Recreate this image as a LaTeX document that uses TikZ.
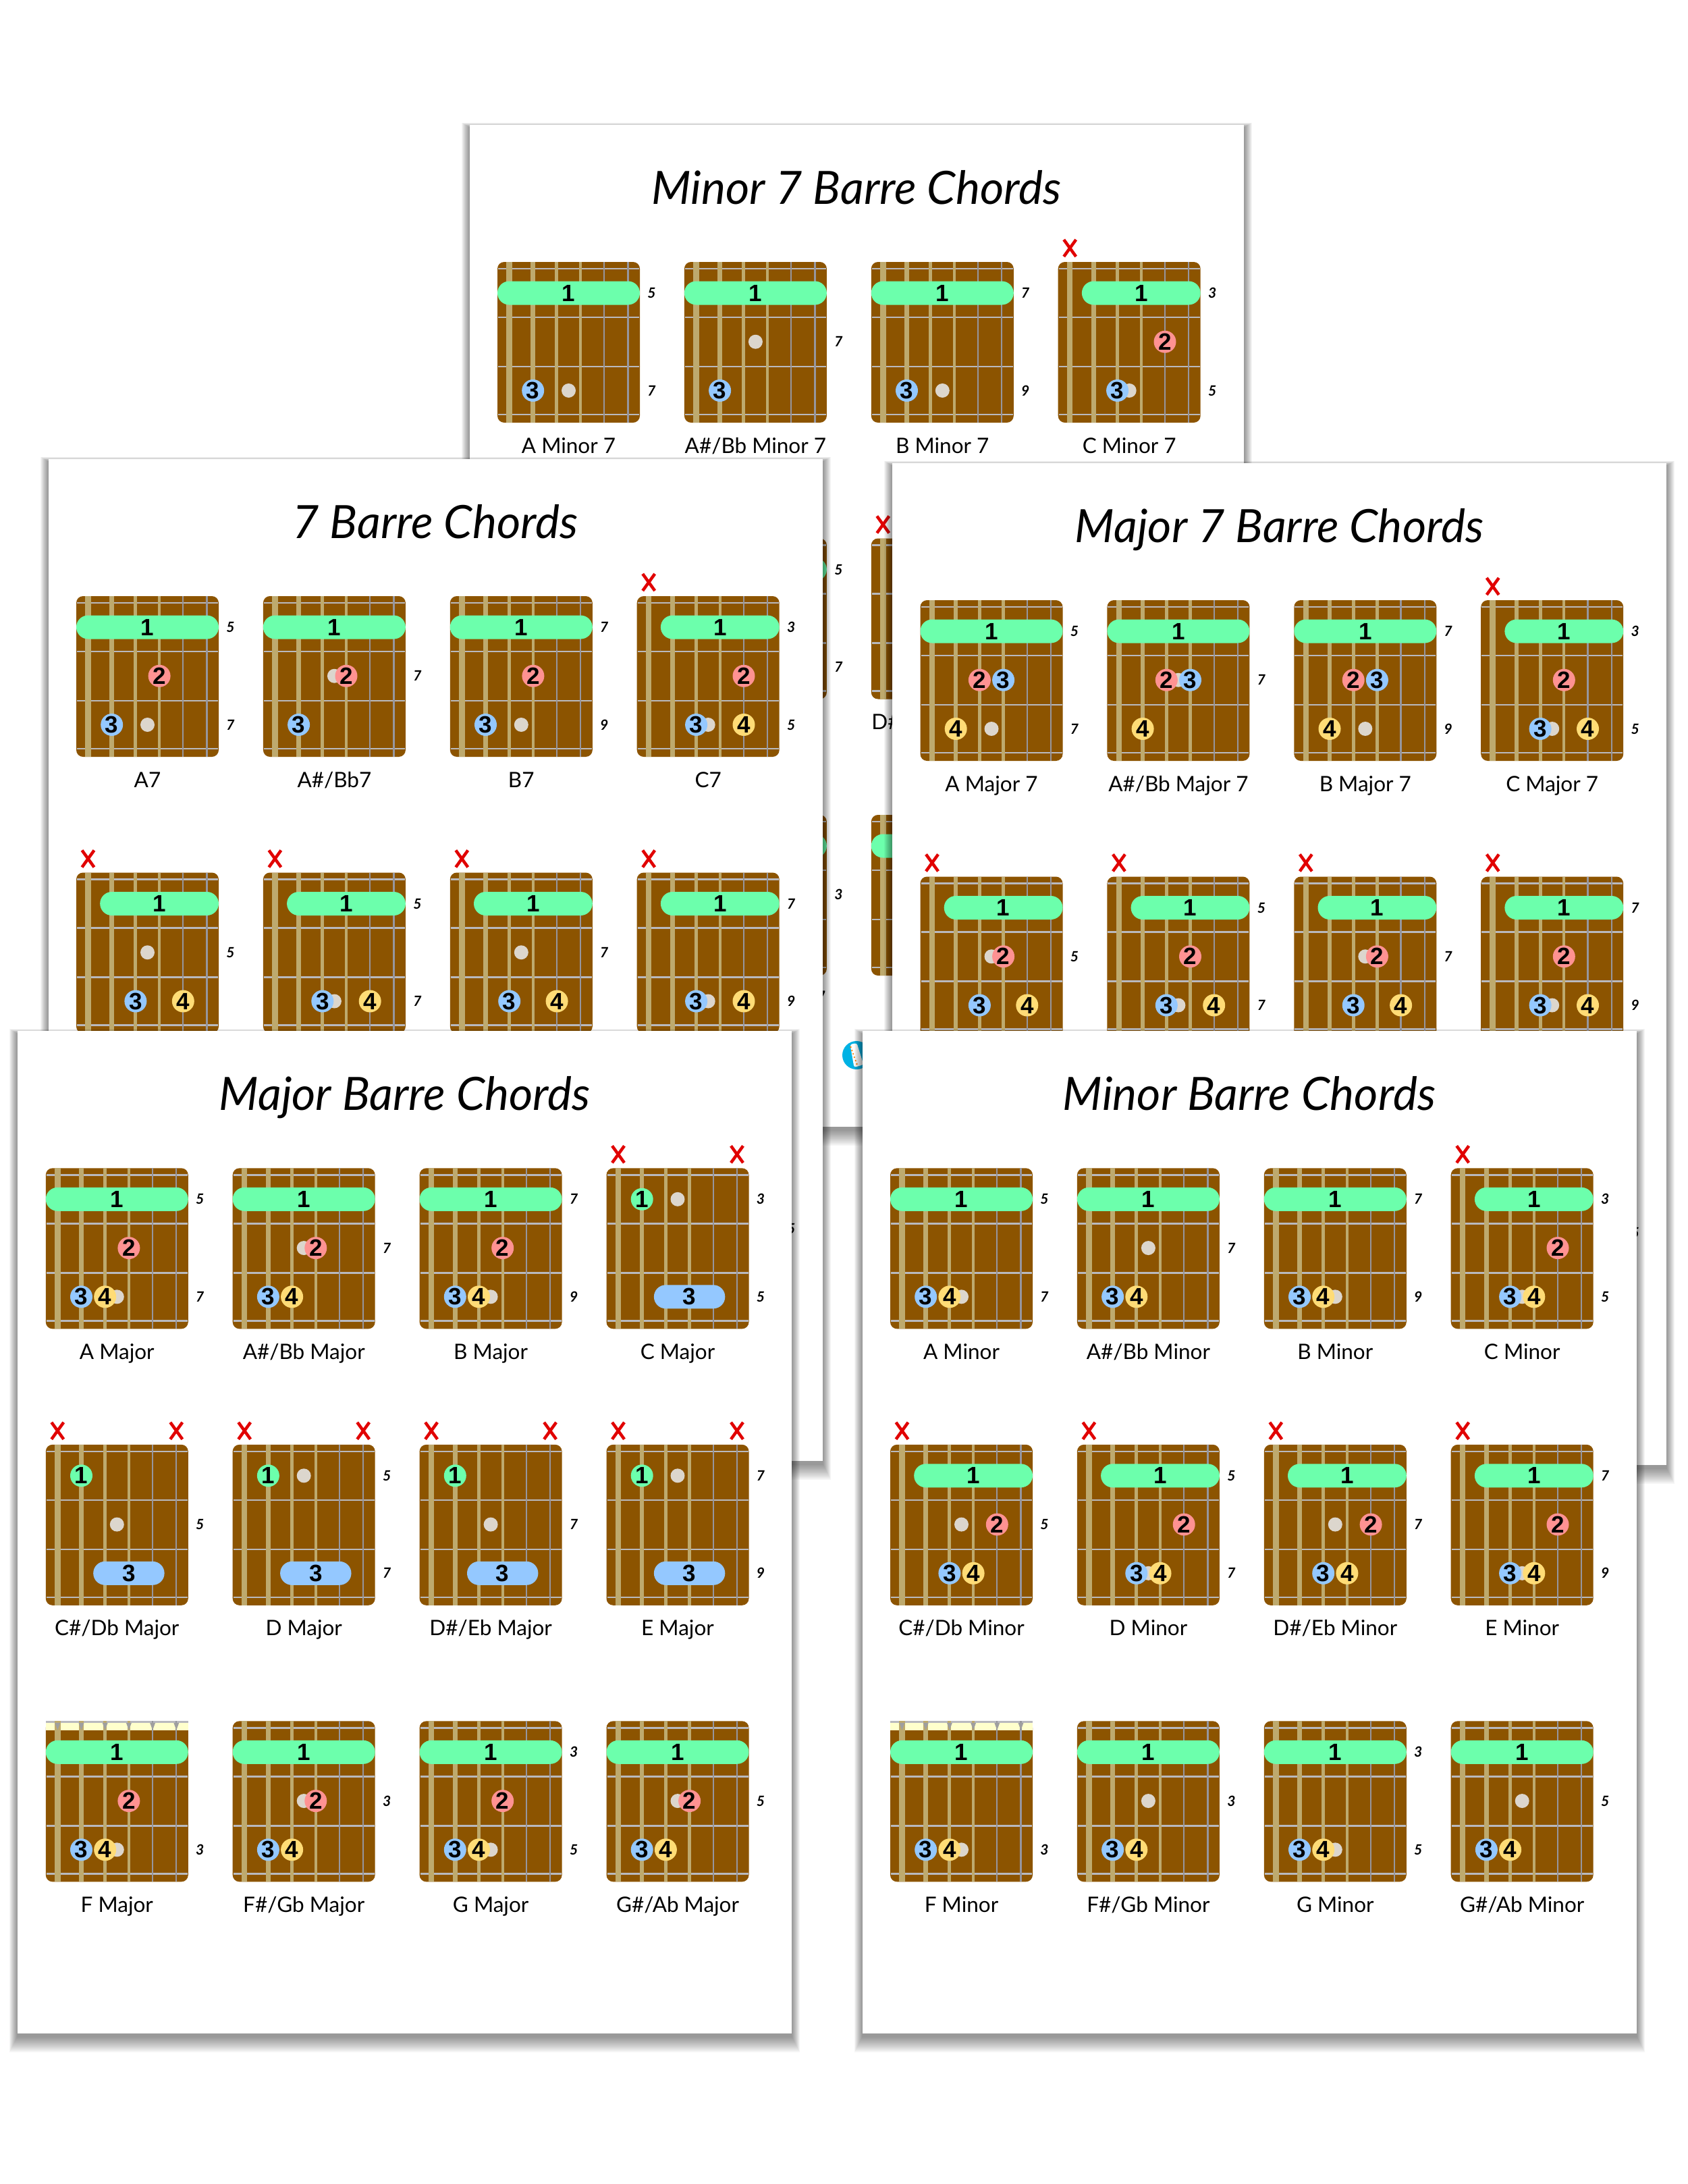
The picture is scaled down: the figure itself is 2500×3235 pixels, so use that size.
\documentclass[tikz,border=0pt]{standalone}
\usepackage{fontspec}
\setmainfont{Lato}
\newfontfamily\dgfont{Liberation Sans}
\definecolor{brd}{RGB}{140,84,0}
\definecolor{tanS}{RGB}{190,170,110}
\definecolor{graySt}{RGB}{150,150,158}
\definecolor{fretC}{RGB}{185,185,190}
\definecolor{barreG}{RGB}{108,255,172}
\definecolor{redD}{RGB}{255,146,146}
\definecolor{blueD}{RGB}{148,200,255}
\definecolor{yelD}{RGB}{255,220,118}
\definecolor{grayD}{RGB}{220,214,205}
\definecolor{muteR}{RGB}{225,0,0}
\definecolor{nutC}{RGB}{255,255,204}
\definecolor{logoB}{RGB}{0,178,228}
\tikzset{
  dtext/.style={font=\dgfont\bfseries\fontsize{35}{35}\selectfont,inner sep=0pt},
  fnum/.style={font=\bfseries\itshape\fontsize{21}{21}\selectfont,inner sep=0pt},
  clabel/.style={font=\fontsize{31.5}{31.5}\selectfont,inner sep=0pt,anchor=base},
  ptitle/.style={font=\itshape\fontsize{68}{68}\selectfont,inner sep=0pt,anchor=base},
}
% string x and row y
\newcommand\cbSX[1]{17.5+(#1-1)*35.2}
\newcommand\cbRY[1]{46+(#1-1)*72.25}
\newcommand\cbStrings{%
  \foreach \i/\w/\c in {1/8.5/tanS,2/6.5/tanS,3/5/tanS,4/4.3/tanS,5/2.3/graySt,6/2.3/graySt}
    \draw[\c,line width=\w pt] ({17.5+(\i-1)*35.2},0) -- ({17.5+(\i-1)*35.2},238);}
\newcommand\cbBoard{%
  \fill[brd,rounded corners=10pt] (0,0) rectangle (211,238);
  \foreach \fy in {10,82,155,226} \draw[fretC,line width=2.6pt] (1,\fy) -- (210,\fy);
  \cbStrings}
\newcommand\cbNutBoard{%
  \fill[brd,rounded corners=10pt] (0,0) rectangle (211,238);
  \fill[brd] (0,0) rectangle (211,20);
  \fill[nutC] (0,0) rectangle (211,13.5);
  \draw[fretC,line width=2.5pt] (0,1.25) -- (211,1.25);
  \foreach \fy in {82,155,226} \draw[fretC,line width=2.6pt] (1,\fy) -- (210,\fy);
  \cbStrings
  \foreach \i in {1,...,6} \fill[gray!75] ({17.5+(\i-1)*35.2-4},2.5) -- ({17.5+(\i-1)*35.2+4},2.5) -- ({17.5+(\i-1)*35.2},13.5) -- cycle;}
\newcommand\cbGray[1]{\fill[grayD] ({\cbSX{3.5}},{\cbRY{#1}}) circle[radius=10.5pt];}
\newcommand\cbFret[2]{\cbGray{#1}\node[fnum] at (228.5,{\cbRY{#1}}) {#2};}
\newcommand\cbFretsAB[2]{\cbFret{1}{#1}\cbFret{3}{#2}}
\newcommand\cbFretsM[1]{\cbFret{2}{#1}}
\newcommand\cbFretsC[1]{\cbFret{3}{#1}}
\newcommand\cbPill[5]{%
  \fill[#1,rounded corners=17.4pt] ({\cbSX{#2}-17.5},{\cbRY{#4}-17.5}) rectangle ({\cbSX{#3}+17.5},{\cbRY{#4}+17.5});
  \node[dtext] at ({(\cbSX{#2}+\cbSX{#3})/2},{\cbRY{#4}}) {#5};}
\newcommand\cbBarre[3]{\cbPill{barreG}{#1}{#2}{#3}{1}}
\newcommand\cbDot[4]{%
  \fill[#1] ({\cbSX{#2}},{\cbRY{#3}}) circle[radius=16.5pt];
  \node[dtext] at ({\cbSX{#2}},{\cbRY{#3}}) {#4};}
\newcommand\cbX[1]{\draw[muteR,line width=4.5pt] ({\cbSX{#1}-9},-33) -- ({\cbSX{#1}+9},-8) ({\cbSX{#1}+9},-33) -- ({\cbSX{#1}-9},-8);}
\newcommand\cbLabel[1]{\node[clabel] at (105.5,283) {#1};}
\newcommand\cbAt[3]{\begin{scope}[shift={({41.5+#1*276.9},{203+#2*409.5})}]#3\end{scope}}
% shapes
\newcommand\shMajE{\cbBarre{1}{6}{1}\cbDot{redD}{4}{2}{2}\cbDot{blueD}{2}{3}{3}\cbDot{yelD}{3}{3}{4}}
\newcommand\shMajA{\cbX{1}\cbX{6}\cbDot{barreG}{2}{1}{1}\cbPill{blueD}{3}{5}{3}{3}}
\newcommand\shMinE{\cbBarre{1}{6}{1}\cbDot{blueD}{2}{3}{3}\cbDot{yelD}{3}{3}{4}}
\newcommand\shMinA{\cbX{1}\cbBarre{2}{6}{1}\cbDot{redD}{5}{2}{2}\cbDot{blueD}{3}{3}{3}\cbDot{yelD}{4}{3}{4}}
\newcommand\shSevE{\cbBarre{1}{6}{1}\cbDot{redD}{4}{2}{2}\cbDot{blueD}{2}{3}{3}}
\newcommand\shSevA{\cbX{1}\cbBarre{2}{6}{1}\cbDot{blueD}{3}{3}{3}\cbDot{yelD}{5}{3}{4}}
\newcommand\shMinSevE{\cbBarre{1}{6}{1}\cbDot{blueD}{2}{3}{3}}
\newcommand\shMinSevA{\cbX{1}\cbBarre{2}{6}{1}\cbDot{redD}{5}{2}{2}\cbDot{blueD}{3}{3}{3}}
\newcommand\shMajSevE{\cbBarre{1}{6}{1}\cbDot{redD}{3}{2}{2}\cbDot{blueD}{4}{2}{3}\cbDot{yelD}{2}{3}{4}}
\newcommand\shMajSevA{\cbX{1}\cbBarre{2}{6}{1}\cbDot{redD}{4}{2}{2}\cbDot{blueD}{3}{3}{3}\cbDot{yelD}{5}{3}{4}}
% page
\newcommand\cbPage[4]{%
  \begin{scope}[shift={(#1,#2)}]
    \foreach \k in {1,...,12} \fill[black,opacity=0.04] ({-\k},{4-0.6*\k}) rectangle ({1147+\k},{1488.4+2*\k});
    \fill[white] (0,0) rectangle (1147,1484.4);
    \node[ptitle] at (573.5,117) {#3};
    #4
  \end{scope}}
\begin{document}
\begin{tikzpicture}[x=1pt,y=-1pt]
\useasboundingbox (0,0) rectangle (2500,3235);
\fill[white] (0,0) rectangle (2500,3235);
% ---------- Minor 7 page (back)
\cbPage{695.5}{185}{Minor 7 Barre Chords}{%
\cbAt{0}{0}{\cbBoard\cbFretsAB{5}{7}\shMinSevE\cbLabel{A Minor 7}}
\cbAt{1}{0}{\cbBoard\cbFretsM{7}\shMinSevE\cbLabel{A\#/Bb Minor 7}}
\cbAt{2}{0}{\cbBoard\cbFretsAB{7}{9}\shMinSevE\cbLabel{B Minor 7}}
\cbAt{3}{0}{\cbBoard\cbFretsAB{3}{5}\shMinSevA\cbLabel{C Minor 7}}
\cbAt{0}{1}{\cbBoard\cbFretsM{5}\shMinSevA\cbLabel{C\#/Db Minor 7}}
\cbAt{1}{1}{\cbBoard\cbFretsAB{5}{7}\shMinSevA\cbLabel{D Minor 7}}
\cbAt{2}{1}{\cbBoard\cbFretsM{7}\shMinSevA\cbLabel{D\#/Eb Minor 7}}
\cbAt{3}{1}{\cbBoard\cbFretsAB{7}{9}\shMinSevA\cbLabel{E Minor 7}}
\cbAt{0}{2}{\cbNutBoard\cbFretsC{3}\shMinSevE\cbLabel{F Minor 7}}
\cbAt{1}{2}{\cbBoard\cbFretsM{3}\shMinSevE\cbLabel{F\#/Gb Minor 7}}
\cbAt{2}{2}{\cbBoard\cbFretsAB{3}{5}\shMinSevE\cbLabel{G Minor 7}}
\cbAt{3}{2}{\cbBoard\cbFretsM{5}\shMinSevE\cbLabel{G\#/Ab Minor 7}}
\fill[logoB] (573.5,1378) circle[radius=21pt];
\fill[white,rounded corners=3pt] (564,1362) -- (574,1360) -- (584,1392) -- (570,1396) -- cycle;
\foreach \j in {0,...,5} {\fill[orange] ({565+\j*1.8},{1366+\j*5}) circle[radius=1.3pt];}
}
% ---------- 7 Barre page
\cbPage{71.5}{680}{7 Barre Chords}{%
\cbAt{0}{0}{\cbBoard\cbFretsAB{5}{7}\shSevE\cbLabel{A7}}
\cbAt{1}{0}{\cbBoard\cbFretsM{7}\shSevE\cbLabel{A\#/Bb7}}
\cbAt{2}{0}{\cbBoard\cbFretsAB{7}{9}\shSevE\cbLabel{B7}}
\cbAt{3}{0}{\cbBoard\cbFretsAB{3}{5}\cbDot{redD}{5}{2}{2}\shSevA\cbLabel{C7}}
\cbAt{0}{1}{\cbBoard\cbFretsM{5}\shSevA\cbLabel{C\#/Db7}}
\cbAt{1}{1}{\cbBoard\cbFretsAB{5}{7}\shSevA\cbLabel{D7}}
\cbAt{2}{1}{\cbBoard\cbFretsM{7}\shSevA\cbLabel{D\#/Eb7}}
\cbAt{3}{1}{\cbBoard\cbFretsAB{7}{9}\shSevA\cbLabel{E7}}
\cbAt{0}{2}{\cbNutBoard\cbFretsC{3}\shSevE\cbLabel{F7}}
\cbAt{1}{2}{\cbBoard\cbFretsM{3}\shSevE\cbLabel{F\#/Gb7}}
\cbAt{2}{2}{\cbBoard\cbFretsAB{3}{5}\shSevE\cbLabel{G7}}
\cbAt{3}{2}{\cbBoard\cbFretsM{5}\shSevE\cbLabel{G\#/Ab7}}
}
% ---------- Major 7 page
\cbPage{1322}{686}{Major 7 Barre Chords}{%
\cbAt{0}{0}{\cbBoard\cbFretsAB{5}{7}\shMajSevE\cbLabel{A Major 7}}
\cbAt{1}{0}{\cbBoard\cbFretsM{7}\shMajSevE\cbLabel{A\#/Bb Major 7}}
\cbAt{2}{0}{\cbBoard\cbFretsAB{7}{9}\shMajSevE\cbLabel{B Major 7}}
\cbAt{3}{0}{\cbBoard\cbFretsAB{3}{5}\shMajSevA\cbLabel{C Major 7}}
\cbAt{0}{1}{\cbBoard\cbFretsM{5}\shMajSevA\cbLabel{C\#/Db Major 7}}
\cbAt{1}{1}{\cbBoard\cbFretsAB{5}{7}\shMajSevA\cbLabel{D Major 7}}
\cbAt{2}{1}{\cbBoard\cbFretsM{7}\shMajSevA\cbLabel{D\#/Eb Major 7}}
\cbAt{3}{1}{\cbBoard\cbFretsAB{7}{9}\shMajSevA\cbLabel{E Major 7}}
\cbAt{0}{2}{\cbNutBoard\cbFretsC{3}\shMajSevE\cbLabel{F Major 7}}
\cbAt{1}{2}{\cbBoard\cbFretsM{3}\shMajSevE\cbLabel{F\#/Gb Major 7}}
\cbAt{2}{2}{\cbBoard\cbFretsAB{3}{5}\shMajSevE\cbLabel{G Major 7}}
\cbAt{3}{2}{\cbBoard\cbFretsM{5}\shMajSevE\cbLabel{G\#/Ab Major 7}}
}
% ---------- Major Barre page (front left)
\cbPage{26.3}{1527.3}{Major Barre Chords}{%
\cbAt{0}{0}{\cbBoard\cbFretsAB{5}{7}\shMajE\cbLabel{A Major}}
\cbAt{1}{0}{\cbBoard\cbFretsM{7}\shMajE\cbLabel{A\#/Bb Major}}
\cbAt{2}{0}{\cbBoard\cbFretsAB{7}{9}\shMajE\cbLabel{B Major}}
\cbAt{3}{0}{\cbBoard\cbFretsAB{3}{5}\shMajA\cbLabel{C Major}}
\cbAt{0}{1}{\cbBoard\cbFretsM{5}\shMajA\cbLabel{C\#/Db Major}}
\cbAt{1}{1}{\cbBoard\cbFretsAB{5}{7}\shMajA\cbLabel{D Major}}
\cbAt{2}{1}{\cbBoard\cbFretsM{7}\shMajA\cbLabel{D\#/Eb Major}}
\cbAt{3}{1}{\cbBoard\cbFretsAB{7}{9}\shMajA\cbLabel{E Major}}
\cbAt{0}{2}{\cbNutBoard\cbFretsC{3}\shMajE\cbLabel{F Major}}
\cbAt{1}{2}{\cbBoard\cbFretsM{3}\shMajE\cbLabel{F\#/Gb Major}}
\cbAt{2}{2}{\cbBoard\cbFretsAB{3}{5}\shMajE\cbLabel{G Major}}
\cbAt{3}{2}{\cbBoard\cbFretsM{5}\shMajE\cbLabel{G\#/Ab Major}}
}
% ---------- Minor Barre page (front right)
\cbPage{1277.5}{1527.3}{Minor Barre Chords}{%
\cbAt{0}{0}{\cbBoard\cbFretsAB{5}{7}\shMinE\cbLabel{A Minor}}
\cbAt{1}{0}{\cbBoard\cbFretsM{7}\shMinE\cbLabel{A\#/Bb Minor}}
\cbAt{2}{0}{\cbBoard\cbFretsAB{7}{9}\shMinE\cbLabel{B Minor}}
\cbAt{3}{0}{\cbBoard\cbFretsAB{3}{5}\shMinA\cbLabel{C Minor}}
\cbAt{0}{1}{\cbBoard\cbFretsM{5}\shMinA\cbLabel{C\#/Db Minor}}
\cbAt{1}{1}{\cbBoard\cbFretsAB{5}{7}\shMinA\cbLabel{D Minor}}
\cbAt{2}{1}{\cbBoard\cbFretsM{7}\shMinA\cbLabel{D\#/Eb Minor}}
\cbAt{3}{1}{\cbBoard\cbFretsAB{7}{9}\shMinA\cbLabel{E Minor}}
\cbAt{0}{2}{\cbNutBoard\cbFretsC{3}\shMinE\cbLabel{F Minor}}
\cbAt{1}{2}{\cbBoard\cbFretsM{3}\shMinE\cbLabel{F\#/Gb Minor}}
\cbAt{2}{2}{\cbBoard\cbFretsAB{3}{5}\shMinE\cbLabel{G Minor}}
\cbAt{3}{2}{\cbBoard\cbFretsM{5}\shMinE\cbLabel{G\#/Ab Minor}}
}
\end{tikzpicture}
\end{document}
